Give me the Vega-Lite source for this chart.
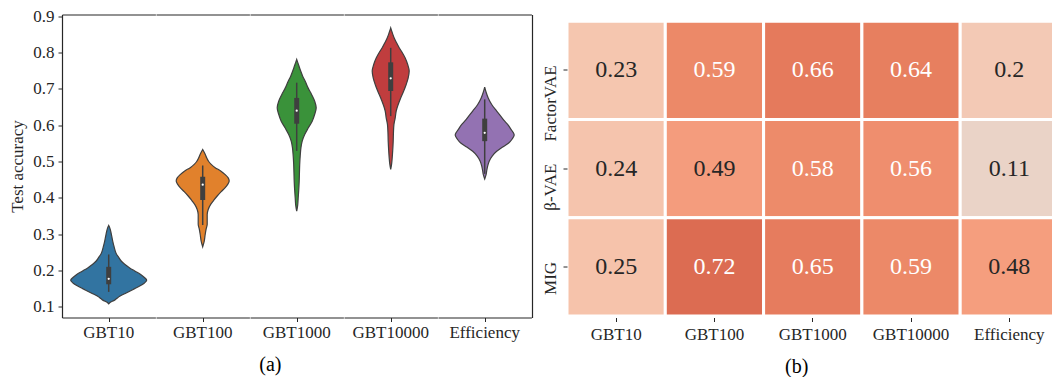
{
  "$schema": "https://vega.github.io/schema/vega-lite/v6.json",
  "padding": {"left": 8, "top": 6.5, "right": 0, "bottom": 0},
  "background": "white",
  "config": {
    "font": "Liberation Serif",
    "view": {"stroke": null},
    "axis": {"labelFont": "Liberation Serif", "titleFont": "Liberation Serif", "labelColor": "#262626", "titleColor": "#262626", "domainColor": "#262626", "tickColor": "#262626", "grid": false, "labelFontSize": 17, "titleFontWeight": "normal", "titleFontSize": 17},
    "header": {"labelFont": "Liberation Serif", "labelFontSize": 17, "labelColor": "#262626"},
    "title": {"font": "Liberation Serif", "fontSize": 20, "fontWeight": "normal", "color": "#000000"},
    "concat": {"spacing": 9}
  },
  "datasets": {
    "violin": [
      {"g": "GBT10", "t": "v", "a": 0.108, "w": 0},
      {"g": "GBT10", "t": "v", "a": 0.113, "w": 4},
      {"g": "GBT10", "t": "v", "a": 0.117, "w": 10},
      {"g": "GBT10", "t": "v", "a": 0.123, "w": 16},
      {"g": "GBT10", "t": "v", "a": 0.129, "w": 22},
      {"g": "GBT10", "t": "v", "a": 0.136, "w": 32},
      {"g": "GBT10", "t": "v", "a": 0.143, "w": 42},
      {"g": "GBT10", "t": "v", "a": 0.150, "w": 52},
      {"g": "GBT10", "t": "v", "a": 0.157, "w": 62},
      {"g": "GBT10", "t": "v", "a": 0.165, "w": 71},
      {"g": "GBT10", "t": "v", "a": 0.173, "w": 76},
      {"g": "GBT10", "t": "v", "a": 0.180, "w": 72},
      {"g": "GBT10", "t": "v", "a": 0.189, "w": 64},
      {"g": "GBT10", "t": "v", "a": 0.198, "w": 53},
      {"g": "GBT10", "t": "v", "a": 0.207, "w": 42},
      {"g": "GBT10", "t": "v", "a": 0.217, "w": 32},
      {"g": "GBT10", "t": "v", "a": 0.226, "w": 25},
      {"g": "GBT10", "t": "v", "a": 0.236, "w": 20},
      {"g": "GBT10", "t": "v", "a": 0.244, "w": 16},
      {"g": "GBT10", "t": "v", "a": 0.254, "w": 13},
      {"g": "GBT10", "t": "v", "a": 0.264, "w": 11},
      {"g": "GBT10", "t": "v", "a": 0.281, "w": 8},
      {"g": "GBT10", "t": "v", "a": 0.295, "w": 6},
      {"g": "GBT10", "t": "v", "a": 0.308, "w": 4},
      {"g": "GBT10", "t": "v", "a": 0.318, "w": 2},
      {"g": "GBT10", "t": "v", "a": 0.324, "w": 0},

      {"g": "GBT100", "t": "v", "a": 0.265, "w": 0},
      {"g": "GBT100", "t": "v", "a": 0.280, "w": 3},
      {"g": "GBT100", "t": "v", "a": 0.299, "w": 5},
      {"g": "GBT100", "t": "v", "a": 0.315, "w": 7},
      {"g": "GBT100", "t": "v", "a": 0.327, "w": 9},
      {"g": "GBT100", "t": "v", "a": 0.340, "w": 9},
      {"g": "GBT100", "t": "v", "a": 0.354, "w": 9},
      {"g": "GBT100", "t": "v", "a": 0.368, "w": 11},
      {"g": "GBT100", "t": "v", "a": 0.382, "w": 16},
      {"g": "GBT100", "t": "v", "a": 0.393, "w": 22},
      {"g": "GBT100", "t": "v", "a": 0.405, "w": 29},
      {"g": "GBT100", "t": "v", "a": 0.417, "w": 37},
      {"g": "GBT100", "t": "v", "a": 0.428, "w": 45},
      {"g": "GBT100", "t": "v", "a": 0.437, "w": 50},
      {"g": "GBT100", "t": "v", "a": 0.446, "w": 53},
      {"g": "GBT100", "t": "v", "a": 0.455, "w": 51},
      {"g": "GBT100", "t": "v", "a": 0.464, "w": 45},
      {"g": "GBT100", "t": "v", "a": 0.474, "w": 36},
      {"g": "GBT100", "t": "v", "a": 0.483, "w": 25},
      {"g": "GBT100", "t": "v", "a": 0.492, "w": 17},
      {"g": "GBT100", "t": "v", "a": 0.500, "w": 12},
      {"g": "GBT100", "t": "v", "a": 0.510, "w": 8},
      {"g": "GBT100", "t": "v", "a": 0.520, "w": 5},
      {"g": "GBT100", "t": "v", "a": 0.533, "w": 0},

      {"g": "GBT1000", "t": "v", "a": 0.363, "w": 0},
      {"g": "GBT1000", "t": "v", "a": 0.380, "w": 2},
      {"g": "GBT1000", "t": "v", "a": 0.400, "w": 3},
      {"g": "GBT1000", "t": "v", "a": 0.420, "w": 4},
      {"g": "GBT1000", "t": "v", "a": 0.446, "w": 5},
      {"g": "GBT1000", "t": "v", "a": 0.470, "w": 5.5},
      {"g": "GBT1000", "t": "v", "a": 0.492, "w": 6},
      {"g": "GBT1000", "t": "v", "a": 0.515, "w": 7},
      {"g": "GBT1000", "t": "v", "a": 0.538, "w": 8.5},
      {"g": "GBT1000", "t": "v", "a": 0.556, "w": 11},
      {"g": "GBT1000", "t": "v", "a": 0.574, "w": 16},
      {"g": "GBT1000", "t": "v", "a": 0.592, "w": 23},
      {"g": "GBT1000", "t": "v", "a": 0.611, "w": 31},
      {"g": "GBT1000", "t": "v", "a": 0.630, "w": 36},
      {"g": "GBT1000", "t": "v", "a": 0.648, "w": 39},
      {"g": "GBT1000", "t": "v", "a": 0.666, "w": 36},
      {"g": "GBT1000", "t": "v", "a": 0.684, "w": 30},
      {"g": "GBT1000", "t": "v", "a": 0.702, "w": 23},
      {"g": "GBT1000", "t": "v", "a": 0.721, "w": 17},
      {"g": "GBT1000", "t": "v", "a": 0.735, "w": 12},
      {"g": "GBT1000", "t": "v", "a": 0.749, "w": 8},
      {"g": "GBT1000", "t": "v", "a": 0.765, "w": 4},
      {"g": "GBT1000", "t": "v", "a": 0.781, "w": 0},

      {"g": "GBT10000", "t": "v", "a": 0.478, "w": 0},
      {"g": "GBT10000", "t": "v", "a": 0.495, "w": 2},
      {"g": "GBT10000", "t": "v", "a": 0.510, "w": 3},
      {"g": "GBT10000", "t": "v", "a": 0.530, "w": 4},
      {"g": "GBT10000", "t": "v", "a": 0.556, "w": 5},
      {"g": "GBT10000", "t": "v", "a": 0.580, "w": 5.5},
      {"g": "GBT10000", "t": "v", "a": 0.602, "w": 6.5},
      {"g": "GBT10000", "t": "v", "a": 0.620, "w": 9},
      {"g": "GBT10000", "t": "v", "a": 0.639, "w": 11},
      {"g": "GBT10000", "t": "v", "a": 0.657, "w": 15},
      {"g": "GBT10000", "t": "v", "a": 0.675, "w": 20},
      {"g": "GBT10000", "t": "v", "a": 0.694, "w": 26},
      {"g": "GBT10000", "t": "v", "a": 0.712, "w": 31},
      {"g": "GBT10000", "t": "v", "a": 0.730, "w": 35},
      {"g": "GBT10000", "t": "v", "a": 0.749, "w": 37},
      {"g": "GBT10000", "t": "v", "a": 0.767, "w": 34},
      {"g": "GBT10000", "t": "v", "a": 0.785, "w": 29},
      {"g": "GBT10000", "t": "v", "a": 0.800, "w": 23},
      {"g": "GBT10000", "t": "v", "a": 0.813, "w": 17},
      {"g": "GBT10000", "t": "v", "a": 0.826, "w": 12},
      {"g": "GBT10000", "t": "v", "a": 0.840, "w": 7},
      {"g": "GBT10000", "t": "v", "a": 0.855, "w": 3},
      {"g": "GBT10000", "t": "v", "a": 0.868, "w": 0},

      {"g": "Efficiency", "t": "v", "a": 0.452, "w": 0},
      {"g": "Efficiency", "t": "v", "a": 0.465, "w": 3},
      {"g": "Efficiency", "t": "v", "a": 0.474, "w": 4},
      {"g": "Efficiency", "t": "v", "a": 0.488, "w": 6},
      {"g": "Efficiency", "t": "v", "a": 0.501, "w": 9},
      {"g": "Efficiency", "t": "v", "a": 0.515, "w": 15},
      {"g": "Efficiency", "t": "v", "a": 0.528, "w": 24},
      {"g": "Efficiency", "t": "v", "a": 0.540, "w": 36},
      {"g": "Efficiency", "t": "v", "a": 0.551, "w": 48},
      {"g": "Efficiency", "t": "v", "a": 0.562, "w": 55},
      {"g": "Efficiency", "t": "v", "a": 0.573, "w": 59},
      {"g": "Efficiency", "t": "v", "a": 0.582, "w": 56},
      {"g": "Efficiency", "t": "v", "a": 0.590, "w": 52},
      {"g": "Efficiency", "t": "v", "a": 0.600, "w": 47},
      {"g": "Efficiency", "t": "v", "a": 0.611, "w": 40},
      {"g": "Efficiency", "t": "v", "a": 0.625, "w": 32},
      {"g": "Efficiency", "t": "v", "a": 0.639, "w": 24},
      {"g": "Efficiency", "t": "v", "a": 0.657, "w": 14},
      {"g": "Efficiency", "t": "v", "a": 0.675, "w": 7},
      {"g": "Efficiency", "t": "v", "a": 0.690, "w": 3},
      {"g": "Efficiency", "t": "v", "a": 0.705, "w": 0},

      {"g": "GBT10", "t": "b", "w": 0, "lo": 0.141, "hi": 0.244, "q1": 0.162, "q3": 0.210, "med": 0.177},
      {"g": "GBT100", "t": "b", "w": 0, "lo": 0.325, "hi": 0.489, "q1": 0.394, "q3": 0.458, "med": 0.436},
      {"g": "GBT1000", "t": "b", "w": 0, "lo": 0.529, "hi": 0.717, "q1": 0.604, "q3": 0.675, "med": 0.640},
      {"g": "GBT10000", "t": "b", "w": 0, "lo": 0.625, "hi": 0.813, "q1": 0.694, "q3": 0.773, "med": 0.729},
      {"g": "Efficiency", "t": "b", "w": 0, "lo": 0.466, "hi": 0.671, "q1": 0.556, "q3": 0.618, "med": 0.579}
    ],
    "heat": [
      {"m": "FactorVAE", "c": "GBT10", "v": 0.23},
      {"m": "FactorVAE", "c": "GBT100", "v": 0.59},
      {"m": "FactorVAE", "c": "GBT1000", "v": 0.66},
      {"m": "FactorVAE", "c": "GBT10000", "v": 0.64},
      {"m": "FactorVAE", "c": "Efficiency", "v": 0.2},
      {"m": "β-VAE", "c": "GBT10", "v": 0.24},
      {"m": "β-VAE", "c": "GBT100", "v": 0.49},
      {"m": "β-VAE", "c": "GBT1000", "v": 0.58},
      {"m": "β-VAE", "c": "GBT10000", "v": 0.56},
      {"m": "β-VAE", "c": "Efficiency", "v": 0.11},
      {"m": "MIG", "c": "GBT10", "v": 0.25},
      {"m": "MIG", "c": "GBT100", "v": 0.72},
      {"m": "MIG", "c": "GBT1000", "v": 0.65},
      {"m": "MIG", "c": "GBT10000", "v": 0.59},
      {"m": "MIG", "c": "Efficiency", "v": 0.48}
    ]
  },
  "hconcat": [
    {
      "title": {"text": "(a)", "orient": "bottom", "anchor": "middle", "offset": 14},
      "data": {"name": "violin"},
      "transform": [
        {"stack": "w", "groupby": ["g", "t", "a"], "offset": "center", "as": ["w0", "w1"]}
      ],
      "facet": {
        "column": {
          "field": "g", "type": "nominal",
          "sort": ["GBT10", "GBT100", "GBT1000", "GBT10000", "Efficiency"],
          "header": {"title": null, "labelOrient": "bottom", "labelPadding": 3}
        }
      },
      "spacing": 0,
      "spec": {
        "width": 93.4,
        "height": 303,
        "layer": [
          {
            "transform": [{"filter": "datum.t == 'v'"}],
            "mark": {"type": "area", "orient": "horizontal", "interpolate": "monotone", "stroke": "#3f3f3f", "strokeWidth": 1.2, "opacity": 1},
            "encoding": {
              "y": {
                "field": "a", "type": "quantitative",
                "scale": {"domain": [0.0705, 0.9047], "nice": false, "zero": false},
                "axis": {"orient": "left", "values": [0.1, 0.2, 0.3, 0.4, 0.5, 0.6, 0.7, 0.8, 0.9], "format": ".1f", "title": "Test accuracy", "tickSize": 4, "labelPadding": 4, "domainWidth": 1.2, "titlePadding": 6}
              },
              "x": {
                "field": "w0", "type": "quantitative",
                "scale": {"domain": [-8.7, 84.7], "nice": false, "zero": false},
                "axis": {"orient": "bottom", "values": [38], "labels": false, "title": null, "tickSize": 4, "domainWidth": 1.2}
              },
              "x2": {"field": "w1"},
              "color": {
                "field": "g", "type": "nominal",
                "scale": {"domain": ["GBT10", "GBT100", "GBT1000", "GBT10000", "Efficiency"], "range": ["#3274a1", "#e1812c", "#3a923a", "#c03d3e", "#9372b2"]},
                "legend": null
              }
            }
          },
          {
            "transform": [{"filter": "datum.t == 'b'"}],
            "mark": {"type": "rule", "color": "#3f3f3f", "strokeWidth": 1.5},
            "encoding": {
              "x": {"datum": 38, "type": "quantitative", "scale": {"domain": [-8.7, 84.7], "nice": false, "zero": false}, "axis": {"orient": "top", "labels": false, "ticks": false, "title": null, "domainWidth": 1.2}},
              "y": {"field": "lo", "type": "quantitative", "scale": {"domain": [0.0705, 0.9047], "nice": false, "zero": false}, "axis": {"orient": "right", "labels": false, "ticks": false, "title": null, "domainWidth": 1.2}},
              "y2": {"field": "hi"}
            }
          },
          {
            "transform": [{"filter": "datum.t == 'b'"}],
            "mark": {"type": "rule", "color": "#3f3f3f", "strokeWidth": 5},
            "encoding": {
              "x": {"datum": 38, "type": "quantitative", "axis": null},
              "y": {"field": "q1", "type": "quantitative", "axis": null},
              "y2": {"field": "q3"}
            }
          },
          {
            "transform": [{"filter": "datum.t == 'b'"}],
            "mark": {"type": "point", "filled": true, "color": "white", "size": 5, "opacity": 1},
            "encoding": {
              "x": {"datum": 38, "type": "quantitative", "axis": null},
              "y": {"field": "med", "type": "quantitative", "axis": null}
            }
          }
        ]
      }
    },
    {
      "title": {"text": "(b)", "orient": "bottom", "anchor": "middle", "offset": 14, "dx": -16},
      "data": {"name": "heat"},
      "width": 491.5,
      "height": 303,
      "encoding": {
        "x": {
          "field": "c", "type": "nominal",
          "sort": ["GBT10", "GBT100", "GBT1000", "GBT10000", "Efficiency"],
          "scale": {"paddingInner": 0, "paddingOuter": 0},
          "axis": {"title": null, "labelAngle": 0, "domain": false, "tickSize": 4, "labelPadding": 5}
        },
        "y": {
          "field": "m", "type": "nominal",
          "sort": ["FactorVAE", "β-VAE", "MIG"],
          "scale": {"paddingInner": 0, "paddingOuter": 0.0423, "align": 0.82},
          "axis": {"title": null, "domain": false, "labelAngle": -90, "labelAlign": "right", "labelBaseline": "alphabetic", "labelOffset": -5, "tickSize": 4, "labelPadding": 8}
        }
      },
      "layer": [
        {
          "mark": {"type": "rect", "stroke": "white", "strokeWidth": 3},
          "encoding": {
            "color": {
              "field": "v", "type": "quantitative",
              "scale": {
                "domain": [0.0625, 0.125, 0.1875, 0.25, 0.3125, 0.375, 0.4375, 0.5, 0.5625, 0.625, 0.6875, 0.75],
                "range": ["#e5d8d0", "#ecd2c4", "#f2cbb8", "#f6c3ab", "#f8ba9e", "#f8b091", "#f7a685", "#f49a7b", "#ef8e6d", "#e98262", "#e17457", "#d8654d"]
              },
              "legend": null
            }
          }
        },
        {
          "mark": {"type": "text", "fontSize": 24, "font": "Liberation Serif"},
          "encoding": {
            "text": {"field": "v", "type": "quantitative"},
            "color": {"condition": {"test": "datum.v > 0.5", "value": "#ffffff"}, "value": "#262626"}
          }
        }
      ]
    }
  ]
}
